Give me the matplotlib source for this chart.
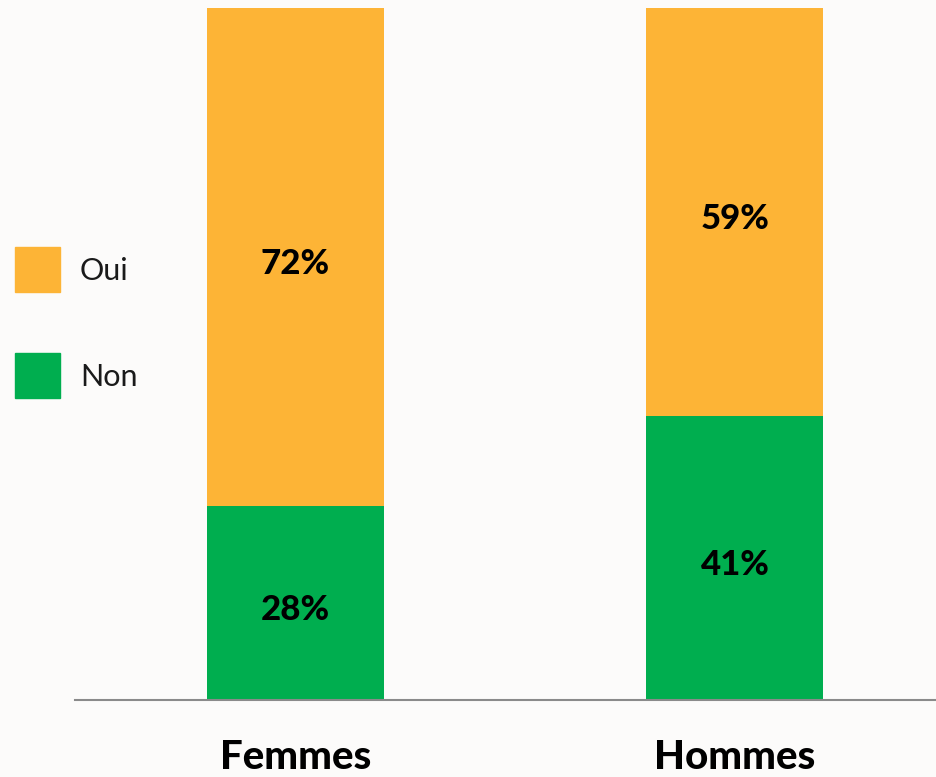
import matplotlib.pyplot as plt
from matplotlib.patches import Rectangle

categories = ["Femmes", "Hommes"]
non_values = [28, 41]
oui_values = [72, 59]
series_names = ["Oui", "Non"]

BG = "#fcfbfa"
ORANGE = "#fdb436"
GREEN = "#00ae4f"

plt.rcParams["font.family"] = ["Lato", "DejaVu Sans"]

fig = plt.figure(figsize=(9.37, 7.77), dpi=100, facecolor=BG)
ax = fig.add_axes([75 / 937, 77 / 777, 862 / 937, 692 / 777])
ax.set_facecolor(BG)

x = range(len(categories))
width = 0.403
ax.bar(x, non_values, width, color=GREEN)
ax.bar(x, oui_values, width, bottom=non_values, color=ORANGE)

# value labels in the middle of each segment
for i in x:
    ax.text(i, non_values[i] / 2 - 1.0, f"{non_values[i]}%", ha="center", va="center",
            fontsize=25, fontweight="black", color="black")
    ax.text(i, non_values[i] + oui_values[i] / 2 - 1.0, f"{oui_values[i]}%", ha="center",
            va="center", fontsize=25, fontweight="black", color="black")

ax.set_xlim(-0.502, 1.46)
ax.set_ylim(0, 100)
ax.set_xticks(list(x))
ax.set_xticklabels(categories, fontsize=29, fontweight="black")
ax.tick_params(axis="x", length=0, pad=28)
ax.set_yticks([])
for side in ["top", "right", "left"]:
    ax.spines[side].set_visible(False)
ax.spines["bottom"].set_color("#8a8a8a")
ax.spines["bottom"].set_linewidth(1.5)

# legend at the left
for name, col, ytop in zip(series_names, [ORANGE, GREEN], [247, 353]):
    fig.add_artist(Rectangle((15 / 937, 1 - (ytop + 45) / 777), 45 / 937, 45 / 777,
                             transform=fig.transFigure, color=col))
    fig.text(80 / 937, 1 - (ytop + 24) / 777, name, fontsize=22, fontweight="normal",
             va="center", ha="left", color="#1a1a1a")

fig.savefig("out.png", dpi=100, facecolor=BG)
